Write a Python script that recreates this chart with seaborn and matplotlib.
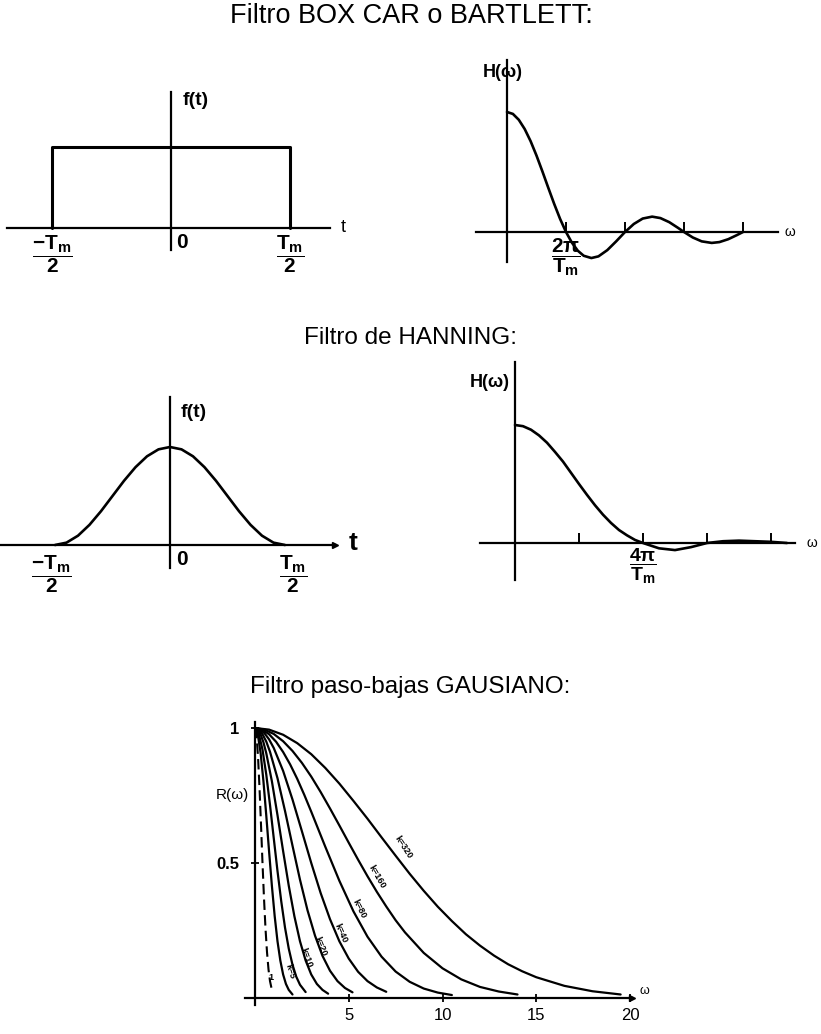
import matplotlib
matplotlib.use("Agg")
import matplotlib.pyplot as plt
import seaborn as sns

# ------------------------------------------------------------------ data
# Box-car window f(t); t in units of Tm/2
box_t = [-1.0, -1.0, 1.0, 1.0]
box_f = [0.0, 1.0, 1.0, 0.0]

# Box-car spectrum H(w); w in units of 2*pi/Tm
box_w = [0.0, 0.1, 0.2, 0.3, 0.4, 0.5, 0.6, 0.7, 0.8, 0.9, 1.0, 1.1, 1.2, 1.3,
         1.43, 1.55, 1.7, 1.85, 2.0, 2.15, 2.3, 2.46, 2.6, 2.75, 2.9, 3.0,
         3.15, 3.3, 3.47, 3.6, 3.75, 3.9, 4.0]
box_H = [1.0, 0.984, 0.935, 0.858, 0.757, 0.637, 0.505, 0.368, 0.234, 0.109,
         0.0, -0.089, -0.156, -0.198, -0.217, -0.203, -0.151, -0.078, 0.0,
         0.067, 0.112, 0.128, 0.116, 0.082, 0.034, 0.0, -0.046, -0.078,
         -0.091, -0.084, -0.060, -0.025, 0.0]

# Hanning window f(t); t in units of Tm/2
han_t = [-1.0, -0.9, -0.8, -0.7, -0.6, -0.5, -0.4, -0.3, -0.2, -0.1, 0.0,
         0.1, 0.2, 0.3, 0.4, 0.5, 0.6, 0.7, 0.8, 0.9, 1.0]
han_f = [0.0, 0.024, 0.095, 0.206, 0.345, 0.5, 0.655, 0.794, 0.905, 0.976, 1.0,
         0.976, 0.905, 0.794, 0.655, 0.5, 0.345, 0.206, 0.095, 0.024, 0.0]

# Hanning spectrum H(w); w in units of 2*pi/Tm
hanH_w = [0.0, 0.125, 0.25, 0.375, 0.5, 0.625, 0.75, 0.875, 1.0, 1.125, 1.25,
          1.375, 1.5, 1.625, 1.75, 1.875, 2.0, 2.25, 2.5, 2.75, 3.0, 3.25,
          3.5, 3.75, 4.0, 4.25]
hanH_H = [1.0, 0.99, 0.96, 0.912, 0.85, 0.772, 0.69, 0.595, 0.5, 0.408, 0.32,
          0.24, 0.17, 0.11, 0.065, 0.026, 0.0, -0.045, -0.06, -0.035, 0.0,
          0.015, 0.02, 0.015, 0.01, 0.0]

# Gaussian low-pass family R(w)
gA_w = [0, 0.75, 1.5, 2.25, 3, 3.75, 4.5, 5.25, 6, 6.75, 7.5, 8.25, 9, 9.75,
        10.5, 11.25, 12, 12.75, 13.5, 14.25, 15, 16.5, 18, 19.5]
gA_R = [1, 0.994, 0.975, 0.944, 0.903, 0.852, 0.794, 0.730, 0.664, 0.595,
        0.527, 0.460, 0.397, 0.338, 0.285, 0.236, 0.194, 0.157, 0.125, 0.099,
        0.077, 0.045, 0.025, 0.013]
gB_w = [0, 0.5, 1, 1.5, 2, 2.5, 3, 3.5, 4, 4.5, 5, 5.5, 6, 6.5, 7, 7.5, 8, 9,
        10, 11, 12, 13, 14]
gB_R = [1, 0.994, 0.978, 0.951, 0.915, 0.871, 0.820, 0.763, 0.702, 0.639,
        0.575, 0.512, 0.451, 0.393, 0.339, 0.288, 0.243, 0.167, 0.110, 0.069,
        0.041, 0.024, 0.013]
gC_w = [0, 0.375, 0.75, 1.125, 1.5, 1.875, 2.25, 2.625, 3, 3.75, 4.5, 5.25, 6,
        6.75, 7.5, 8.25, 9, 9.75, 10.5]
gC_R = [1, 0.994, 0.977, 0.949, 0.911, 0.865, 0.812, 0.753, 0.690, 0.560,
        0.434, 0.321, 0.227, 0.153, 0.098, 0.060, 0.035, 0.020, 0.011]
gD_w = [0, 0.25, 0.5, 0.75, 1, 1.5, 2, 2.5, 3, 3.5, 4, 4.5, 5, 5.5, 6, 6.5, 7]
gD_R = [1, 0.995, 0.981, 0.958, 0.926, 0.841, 0.735, 0.618, 0.500, 0.389,
        0.292, 0.210, 0.146, 0.097, 0.0625, 0.039, 0.023]
gE_w = [0, 0.2, 0.4, 0.6, 0.8, 1.2, 1.6, 2.0, 2.4, 2.8, 3.2, 3.6, 4.0, 4.4,
        4.8, 5.2]
gE_R = [1, 0.994, 0.977, 0.950, 0.912, 0.814, 0.693, 0.564, 0.438, 0.325,
        0.231, 0.156, 0.101, 0.0625, 0.037, 0.021]
gF_w = [0, 0.15, 0.3, 0.45, 0.6, 0.9, 1.2, 1.5, 1.8, 2.1, 2.4, 2.7, 3.0, 3.3,
        3.6, 3.9]
gF_R = [1, 0.994, 0.976, 0.947, 0.907, 0.803, 0.677, 0.544, 0.416, 0.303,
        0.210, 0.139, 0.087, 0.052, 0.030, 0.016]
gG_w = [0, 0.2, 0.4, 0.6, 0.8, 1.0, 1.2, 1.4, 1.6, 1.8, 2.0, 2.2, 2.4, 2.7]
gG_R = [1, 0.979, 0.920, 0.828, 0.715, 0.592, 0.470, 0.358, 0.261, 0.183,
        0.123, 0.079, 0.049, 0.022]
gH_w = [0, 0.15, 0.3, 0.45, 0.6, 0.75, 0.9, 1.05, 1.2, 1.35, 1.5, 1.65, 1.8, 2.0]
gH_R = [1, 0.976, 0.907, 0.803, 0.677, 0.544, 0.416, 0.303, 0.210, 0.139,
        0.087, 0.052, 0.030, 0.013]
gI_w = [0, 0.08, 0.16, 0.24, 0.32, 0.4, 0.48, 0.56, 0.64, 0.72, 0.8, 0.9]
gI_R = [1, 0.973, 0.895, 0.779, 0.642, 0.5, 0.369, 0.257, 0.170, 0.106,
        0.0625, 0.030]

gauss_labels = ["k=320", "k=160", "k=80", "k=40", "k=20", "k=10", "k=5", "1"]

box_ticklabels = [r"$\dfrac{\mathbf{-T_m}}{\mathbf{2}}$",
                  r"$\dfrac{\mathbf{T_m}}{\mathbf{2}}$"]
box_H_ticklabels = [r"$\dfrac{\mathbf{2\pi}}{\mathbf{T_m}}$", "", "", ""]
han_H_ticklabels = ["", r"$\dfrac{\mathbf{4\pi}}{\mathbf{T_m}}$", "", ""]
gauss_xticks = [5, 10, 15, 20]
gauss_xticklabels = ["5", "10", "15", "20"]
gauss_yticks = [0.5, 1.0]
gauss_yticklabels = ["0.5", "1"]

# ------------------------------------------------------------------ style
sns.set_theme(style="white")
plt.rcParams["font.family"] = ["Liberation Sans", "DejaVu Sans"]
plt.rcParams["mathtext.fontset"] = "custom"
plt.rcParams["mathtext.rm"] = "Liberation Sans"
plt.rcParams["mathtext.it"] = "Liberation Sans:italic"
plt.rcParams["mathtext.bf"] = "Liberation Sans:bold"
for key in ("text.color", "axes.labelcolor", "xtick.color", "ytick.color"):
    plt.rcParams[key] = "black"

W, H = 821, 1034
fig = plt.figure(figsize=(W / 100, H / 100), dpi=100)
fig.patch.set_facecolor("white")
LW = 1.9


def make_axes(x0, y0, x1, y1, ox, oy, ux, uy):
    ax = fig.add_axes([x0 / W, 1 - y1 / H, (x1 - x0) / W, (y1 - y0) / H])
    ax.set_xlim((x0 - ox) / ux, (x1 - ox) / ux)
    ax.set_ylim((oy - y1) / uy, (oy - y0) / uy)
    ax.set_facecolor("none")
    for s in ("top", "right"):
        ax.spines[s].set_visible(False)
    for s in ("left", "bottom"):
        ax.spines[s].set_position(("data", 0))
        ax.spines[s].set_color("black")
        ax.spines[s].set_linewidth(1.6)
    ax.set_xticks([])
    ax.set_yticks([])
    return ax


def curve(ax, x, y, ls="-", lw=LW):
    sns.lineplot(x=x, y=y, ax=ax, color="black", lw=lw, sort=False,
                 estimator=None, linestyle=ls)
    ax.set_xlabel("")
    ax.set_ylabel("")


# titles
fig.text(411 / W, 1 - 16 / H, "Filtro BOX CAR o BARTLETT:", ha="center",
         va="center", fontsize=19.5)
fig.text(410 / W, 1 - 338 / H, "Filtro de HANNING:", ha="center",
         va="center", fontsize=17.5)
fig.text(410 / W, 1 - 687 / H, "Filtro paso-bajas GAUSIANO:", ha="center",
         va="center", fontsize=17.5)

# ---- panel 1: box car f(t)
ax1 = make_axes(7, 92, 330, 250, 171, 228, 119, 81)
curve(ax1, box_t, box_f, lw=2.2)
ax1.set_xticks([-1, 1])
ax1.set_xticklabels(box_ticklabels, fontsize=15)
ax1.tick_params(axis="x", bottom=True, length=0, pad=4)
ax1.text(0.1, 1.58, "f(t)", fontsize=14, fontweight="bold", ha="left", va="center")
ax1.text(1.43, 0.0, "t", fontsize=13, ha="left", va="center", clip_on=False)
ax1.text(0.04, -0.06, "0", fontsize=15, fontweight="bold", ha="left", va="top")

# ---- panel 2: box car H(w)
ax2 = make_axes(476, 60, 778, 262, 507, 232, 59, 120)
curve(ax2, box_w, box_H)
ax2.set_xticks([1, 2, 3, 4])
ax2.set_xticklabels(box_H_ticklabels, fontsize=15)
ax2.tick_params(axis="x", bottom=True, direction="in", length=7, width=1.4,
                pad=3, color="black")
ax2.text(-0.08, 1.33, "H(ω)", fontsize=13, fontweight="bold", ha="center",
         va="center")
ax2.text(4.71, 0.0, "ω", fontsize=10, ha="left", va="center", clip_on=False)

# ---- panel 3: Hanning f(t)
ax3 = make_axes(0, 397, 335, 568, 170, 545, 115, 98)
curve(ax3, han_t, han_f)
ax3.set_xticks([-1.03, 1.07])
ax3.set_xticklabels(box_ticklabels, fontsize=15)
ax3.tick_params(axis="x", bottom=True, length=0, pad=6)
ax3.plot([1], [0], marker=">", color="black", ms=5,
         transform=ax3.get_yaxis_transform(), clip_on=False)
ax3.text(0.09, 1.35, "f(t)", fontsize=14, fontweight="bold", ha="left", va="center")
ax3.text(1.55, 0.02, "t", fontsize=19, fontweight="bold", ha="left",
         va="center", clip_on=False)
ax3.text(0.05, -0.05, "0", fontsize=15, fontweight="bold", ha="left", va="top")

# ---- panel 4: Hanning H(w)
ax4 = make_axes(480, 362, 795, 580, 515, 543, 64, 118)
curve(ax4, hanH_w, hanH_H)
ax4.set_xticks([1, 2, 3, 4])
ax4.set_xticklabels(han_H_ticklabels, fontsize=14)
ax4.tick_params(axis="x", bottom=True, direction="in", length=7, width=1.4,
                pad=3, color="black")
ax4.text(-0.08, 1.36, "H(ω)", fontsize=13, fontweight="bold", ha="right",
         va="center")
ax4.text(4.55, 0.0, "ω", fontsize=10, ha="left", va="center", clip_on=False)

# ---- panel 5: Gaussian family
ax5 = make_axes(245, 722, 632, 1005, 255, 998, 18.75, 270)
g_w = [gA_w, gB_w, gC_w, gD_w, gE_w, gF_w, gG_w, gH_w]
g_R = [gA_R, gB_R, gC_R, gD_R, gE_R, gF_R, gG_R, gH_R]
for xw, yr in zip(g_w, g_R):
    curve(ax5, xw, yr, lw=1.6)
curve(ax5, gI_w, gI_R, ls=(0, (5, 2.5)), lw=1.5)
ax5.set_xticks(gauss_xticks)
ax5.set_xticklabels(gauss_xticklabels, fontsize=12)
ax5.set_yticks(gauss_yticks)
ax5.set_yticklabels(gauss_yticklabels, fontsize=12, fontweight="bold")
ax5.tick_params(axis="both", bottom=True, left=True, direction="inout",
                length=6, width=1.3, color="black")
ax5.tick_params(axis="x", pad=4)
ax5.tick_params(axis="y", pad=8)
ax5.plot([1], [0], marker=">", color="black", ms=5,
         transform=ax5.get_yaxis_transform(), clip_on=False)
ax5.text(-1.2, 0.75, "R(ω)", fontsize=11, ha="center", va="center",
         clip_on=False)
ax5.text(20.5, 0.025, "ω", fontsize=9, ha="left", va="center", clip_on=False)

label_pos = [(7.9, 0.56, -57), (6.5, 0.45, -60), (5.55, 0.33, -63),
             (4.6, 0.24, -66), (3.5, 0.19, -68), (2.75, 0.15, -70),
             (1.85, 0.10, -72), (0.85, 0.075, 0)]
for txt, (lx, ly, rot) in zip(gauss_labels, label_pos):
    ax5.text(lx, ly, txt, fontsize=6.5, fontweight="bold", rotation=rot,
             ha="center", va="center")

fig.savefig("out.png", dpi=100, facecolor="white")
